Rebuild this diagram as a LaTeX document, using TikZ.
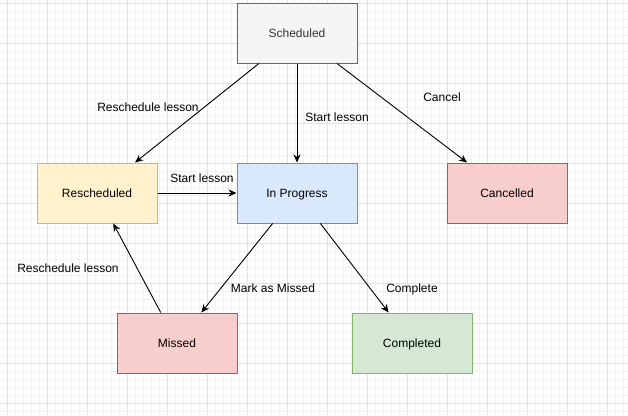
\documentclass[tikz,border=0pt]{standalone}
\usepackage{fontspec}
\setmainfont{Liberation Sans}
\usepackage{tikz}
\usetikzlibrary{arrows.meta}
\definecolor{minorGridColor}{HTML}{F2F2F2}
\definecolor{majorGridColor}{HTML}{E2E2E2}
\definecolor{greyFill}{HTML}{F5F5F5}
\definecolor{greyLine}{HTML}{666666}
\definecolor{greyText}{HTML}{333333}
\definecolor{yellowFill}{HTML}{FFF2CC}
\definecolor{yellowLine}{HTML}{D6B656}
\definecolor{blueFill}{HTML}{DAE8FC}
\definecolor{blueLine}{HTML}{6C8EBF}
\definecolor{redFill}{HTML}{F8CECC}
\definecolor{redLine}{HTML}{B85450}
\definecolor{greenFill}{HTML}{D5E8D4}
\definecolor{greenLine}{HTML}{82B366}
\tikzstyle{diagram} = [x = 1pt, y = -1pt, font=\fontsize{12}{14}\selectfont]
\tikzstyle{minorGridLine} = [color=minorGridColor, line width=1pt]
\tikzstyle{majorGridLine} = [color=majorGridColor, line width=1pt]
\tikzstyle{stateStyle} = [draw, line width=1pt, minimum width=120pt, minimum height=60pt, inner sep=0pt, text height=8.6pt, text depth=0pt]
\tikzstyle{scheduledStyle} = [stateStyle, fill=greyFill, draw=greyLine, text=greyText]
\tikzstyle{rescheduledStyle} = [stateStyle, fill=yellowFill, draw=yellowLine]
\tikzstyle{progressStyle} = [stateStyle, fill=blueFill, draw=blueLine]
\tikzstyle{stopStyle} = [stateStyle, fill=redFill, draw=redLine]
\tikzstyle{doneStyle} = [stateStyle, fill=greenFill, draw=greenLine]
\tikzstyle{transition} = [line width=0.9pt, -{Stealth[length=8pt, width=7pt, inset=2.5pt]}]
\tikzstyle{transitionText} = [inner sep=0pt, text height=8.6pt, text depth=0pt]
\newcommand{\backgroundGrid}{
  \foreach \gx in {7,15,...,623} {
    \draw [minorGridLine] (\gx,0) -- (\gx,415);
  }
  \foreach \gy in {3,11,...,411} {
    \draw [minorGridLine] (0,\gy) -- (628,\gy);
  }
  \foreach \gx in {7,47,...,607} {
    \draw [majorGridLine] (\gx,0) -- (\gx,415);
  }
  \foreach \gy in {3,43,...,403} {
    \draw [majorGridLine] (0,\gy) -- (628,\gy);
  }
}
\begin{document}
\begin{tikzpicture}[diagram]
  \useasboundingbox (0,0) rectangle (628,415);
  \fill [white] (0,0) rectangle (628,415);
  \backgroundGrid

  \node [scheduledStyle] (scheduled) at (297,33) {Scheduled};
  \node [rescheduledStyle] (rescheduled) at (97,193) {Rescheduled};
  \node [progressStyle] (inProgress) at (297,193) {In Progress};
  \node [stopStyle] (cancelled) at (507,193) {Cancelled};
  \node [stopStyle] (missed) at (177,343) {Missed};
  \node [doneStyle] (completed) at (412,343) {Completed};

  \draw [transition] (scheduled) -- (rescheduled);
  \draw [transition] (scheduled) -- (inProgress);
  \draw [transition] (scheduled) -- (cancelled);
  \draw [transition] (rescheduled) -- (inProgress);
  \draw [transition] (inProgress) -- (missed);
  \draw [transition] (inProgress) -- (completed);
  \draw [transition] (missed) -- (rescheduled);

  \node [transitionText] (rescheduleTop) at (148,107) {Reschedule lesson};
  \node [transitionText] (startDown) at (337,117) {Start lesson};
  \node [transitionText] (cancelText) at (442,97) {Cancel};
  \node [transitionText] (startRight) at (202,178) {Start lesson};
  \node [transitionText] (markMissed) at (273,288) {Mark as Missed};
  \node [transitionText] (completeText) at (412,288) {Complete};
  \node [transitionText] (rescheduleBack) at (68,268) {Reschedule lesson};
\end{tikzpicture}
\end{document}
